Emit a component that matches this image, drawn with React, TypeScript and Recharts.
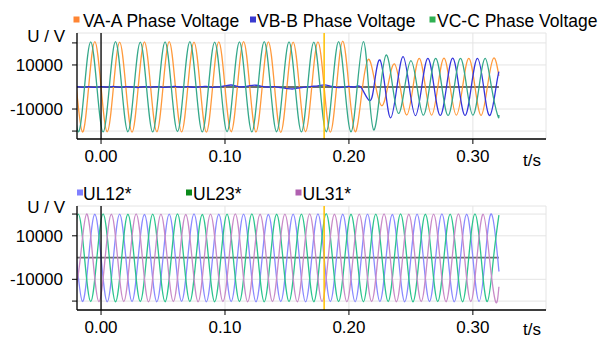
import React from 'react';
import { LineChart, Line, XAxis, YAxis, CartesianGrid, ReferenceLine } from 'recharts';

// sample times (ms) and voltages (V)
const vaMs = [-25, -20, -15, -10, -5, 0, 5, 10, 15, 20, 25, 30, 35, 40, 45, 50, 55, 60, 65, 70, 75, 80, 85, 90, 95, 100, 105, 110, 115, 120, 125, 130, 135, 140, 145, 150, 155, 160, 165, 170, 175, 180, 185, 190, 195, 200, 205, 210.1, 215.5, 221, 226.5, 231.6, 236.7, 241.7, 246.7, 251.7, 256.7, 261.7, 266.7, 271.7, 276.7, 281.7, 286.7, 291.7, 296.7, 301.7, 306.7, 311.7, 316.7, 321];
const vaVolts = [
  20500, 0, -20400, 0, 20600, 0, -20300, 0, 20400, 0, -20500, 0, 20500, 0, -20300, 0,
  20600, 0, -20400, 0, 20400, 0, -20500, 0, 20500, 0, -20300, 0, 20600, 0, -20400, 0,
  20500, 0, -20600, 0, 20400, 0, -20300, 0, 20500, 0, -20500, 0, 20800, 0, -20300,
  -3900, 12500, 2000, -8500, 1000, 10500, -1100, -12700, 0, 13000, 0, -12800, 0, 13100, 0,
  -12800, 0, 13000, 0, -12900, 0, 13100, 5000,
];

const vbMs = [-25, -20, -15, -10, -5, 0, 5, 10, 15, 20, 25, 30, 35, 40, 45, 50, 55, 60, 65, 70, 75, 80, 85, 90, 95, 100, 105, 110, 115, 120, 125, 130, 135, 140, 145, 150, 155, 160, 165, 170, 175, 180, 185, 190, 195, 200, 205, 210, 216.9, 220.9, 225, 229.3, 233.7, 238.7, 243.7, 248.7, 253.7, 258.7, 263.7, 268.7, 273.7, 278.7, 283.7, 288.7, 293.7, 298.7, 303.7, 308.7, 313.7, 318.7, 321];
const vbVolts = [
  0, 200, -150, 100, -200, 150, -100, 250, -200, 100, 0, -250, 150, -100, 200, -150,
  100, 300, -100, 200, -200, 100, 250, -150, 100, 500, 900, 300, 100, 600, 800, 300,
  0, 200, -300, -700, -900, -400, 0, 300, 500, 1000, 400, -200, -100, 300, 0, -300,
  -6200, 3000, 12300, -900, -14000, 0, 13800, 0, -13000, 0, 13000, 0, -12900, 0, 13100, 0,
  -12900, 0, 13000, 0, -12900, 0, 7000,
];

const vcMs = [-28.33, -23.33, -18.33, -13.33, -8.33, -3.33, 1.67, 6.67, 11.67, 16.67, 21.67, 26.67, 31.67, 36.67, 41.67, 46.67, 51.67, 56.67, 61.67, 66.67, 71.67, 76.67, 81.67, 86.67, 91.67, 96.67, 101.67, 106.67, 111.67, 116.67, 121.67, 126.67, 131.67, 136.67, 141.67, 146.67, 151.67, 156.67, 161.67, 166.67, 171.67, 176.67, 181.67, 186.67, 191.67, 196.67, 201.67, 206.67, 211.67, 215.8, 220, 225, 230, 235, 240, 245, 250, 255, 260, 265, 270, 275, 280, 285, 290, 295, 300, 305, 310, 315, 320, 321];
const vcVolts = [
  20400, 0, -20300, 0, 20500, 0, -20400, 0, 20600, 0, -20300, 0, 20400, 0, -20400, 0,
  20500, 0, -20200, 0, 20600, 0, -20400, 0, 20400, 0, -20300, 0, 20500, 0, -20400, 0,
  20600, 0, -20300, 0, 20500, 0, -20400, 0, 20400, 0, -20300, 0, 20600, 0, -20300, 0, 20600,
  500, -19500, -2500, 14500, 1250, -12000, 0, 12000, 0, -12800, 0, 13000, 0, -12900, 0, 13000,
  0, -12800, 0, 13000, 0, -12900, -12700,
];

const ul12Ms = [-25, -20, -15, -10, -5, 0, 5, 10, 15, 20, 25, 30, 35, 40, 45, 50, 55, 60, 65, 70, 75, 80, 85, 90, 95, 100, 105, 110, 115, 120, 125, 130, 135, 140, 145, 150, 155, 160, 165, 170, 175, 180, 185, 190, 195, 200, 205, 210, 215, 220, 225, 230, 235, 240, 245, 250, 255, 260, 265, 270, 275, 280, 285, 290, 295, 300, 305, 310, 315, 320, 321];
const ul12Volts = [
  20100, 0, -20200, 0, 19900, 0, -20300, 0, 20000, 0, -20200, 0, 19800, 0, -20300, 0,
  20000, 0, -20100, 0, 20100, 0, -20300, 0, 19900, 0, -20200, 0, 20000, 0, -20300, 0,
  19800, 0, -20200, 0, 20000, 0, -20300, 0, 20100, 0, -20200, 0, 19900, 0, -20300, 0,
  20000, 0, -20200, 0, 19800, 0, -20300, 0, 20000, 0, -20200, 0, 20100, 0, -20300, 0,
  19900, 0, -20200, 0, 20000, 0, -6200,
];

const ul23Ms = [-23.33, -18.33, -13.33, -8.33, -3.33, 1.67, 6.67, 11.67, 16.67, 21.67, 26.67, 31.67, 36.67, 41.67, 46.67, 51.67, 56.67, 61.67, 66.67, 71.67, 76.67, 81.67, 86.67, 91.67, 96.67, 101.67, 106.67, 111.67, 116.67, 121.67, 126.67, 131.67, 136.67, 141.67, 146.67, 151.67, 156.67, 161.67, 166.67, 171.67, 176.67, 181.67, 186.67, 191.67, 196.67, 201.67, 206.67, 211.67, 216.67, 221.67, 226.67, 231.67, 236.67, 241.67, 246.67, 251.67, 256.67, 261.67, 266.67, 271.67, 276.67, 281.67, 286.67, 291.67, 296.67, 301.67, 306.67, 311.67, 316.67, 321];
const ul23Volts = [
  0, 20000, 0, -20200, 0, 20100, 0, -20300, 0, 19900, 0, -20200, 0, 20000, 0, -20300,
  0, 20100, 0, -20200, 0, 19800, 0, -20300, 0, 20000, 0, -20200, 0, 20100, 0, -20300,
  0, 19900, 0, -20200, 0, 20000, 0, -20300, 0, 20200, 0, -20200, 0, 19900, 0, -20300,
  0, 20000, 0, -20200, 0, 20100, 0, -20300, 0, 19900, 0, -20200, 0, 20000, 0, -20300,
  0, 20100, 0, -20200, 0, 19500,
];

const ul31Ms = [-21.67, -16.67, -11.67, -6.67, -1.67, 3.33, 8.33, 13.33, 18.33, 23.33, 28.33, 33.33, 38.33, 43.33, 48.33, 53.33, 58.33, 63.33, 68.33, 73.33, 78.33, 83.33, 88.33, 93.33, 98.33, 103.33, 108.33, 113.33, 118.33, 123.33, 128.33, 133.33, 138.33, 143.33, 148.33, 153.33, 158.33, 163.33, 168.33, 173.33, 178.33, 183.33, 188.33, 193.33, 198.33, 203.33, 208.33, 213.33, 218.33, 223.33, 228.33, 233.33, 238.33, 243.33, 248.33, 253.33, 258.33, 263.33, 268.33, 273.33, 278.33, 283.33, 288.33, 293.33, 298.33, 303.33, 308.33, 313.33, 318.33, 321];
const ul31Volts = [
  -20200, 0, 20000, 0, -20300, 0, 19900, 0, -20200, 0, 20100, 0, -20300, 0, 20000, 0,
  -20200, 0, 19800, 0, -20300, 0, 20000, 0, -20200, 0, 20100, 0, -20300, 0, 19900, 0,
  -20200, 0, 20000, 0, -20300, 0, 20100, 0, -20200, 0, 19900, 0, -20300, 0, 20000, 0,
  -20200, 0, 20100, 0, -20300, 0, 19900, 0, -20200, 0, 20000, 0, -20300, 0, 20100, 0,
  -20200, 0, 19900, 0, -20300, -13400,
];

const topNames = ['VA-A Phase Voltage', 'VB-B Phase Voltage', 'VC-C Phase Voltage'];
const bottomNames = ['UL12*', 'UL23*', 'UL31*'];
const xTicks = [0, 0.1, 0.2, 0.3];
const yTicks = [-20000, -10000, 0, 10000, 20000];

const FONT = '"Liberation Sans", Arial, sans-serif';
const X_DOMAIN: [number, number] = [-0.0194, 0.359];
const DATA_END = 0.321;
const CURSOR_T = 0.18;

const toPoints = (ms: number[], volts: number[]) => ms.map((m, i) => ({ t: m / 1000, v: volts[i] }));

// zero baseline only runs over the recorded span, drawn under the traces
const baseline = [{ t: X_DOMAIN[0], v: 0 }, { t: DATA_END, v: 0 }];

const topSeries = [
  { name: topNames[0], color: '#ff9a3c', points: toPoints(vaMs, vaVolts) },
  { name: topNames[1], color: '#3434dc', points: toPoints(vbMs, vbVolts) },
  { name: topNames[2], color: '#35a88a', points: toPoints(vcMs, vcVolts) },
];

const bottomSeries = [
  { name: bottomNames[0], color: '#8a8aff', points: toPoints(ul12Ms, ul12Volts) },
  { name: bottomNames[1], color: '#2cc48e', points: toPoints(ul23Ms, ul23Volts) },
  { name: bottomNames[2], color: '#c88ac8', points: toPoints(ul31Ms, ul31Volts) },
];

type Series = { name: string; color: string; points: { t: number; v: number }[] };

function Panel(props: {
  top: number;
  height: number;
  marginTop: number;
  marginBottom: number;
  yDomain: [number, number];
  series: Series[];
}) {
  const { top, height, marginTop, marginBottom, yDomain, series } = props;
  return (
    <div style={{ position: 'absolute', left: 0, top }}>
      <LineChart width={600} height={height} margin={{ top: marginTop, right: 54, bottom: marginBottom, left: 0 }}>
        <CartesianGrid stroke="#e4e4e4" />
        <XAxis
          type="number"
          dataKey="t"
          domain={X_DOMAIN}
          ticks={xTicks}
          allowDataOverflow
          tickFormatter={(v: number) => v.toFixed(2)}
          height={25}
          tickSize={5}
          tickMargin={6}
          axisLine={{ stroke: '#000', strokeWidth: 1.3 }}
          tickLine={{ stroke: '#000' }}
          tick={{ fill: '#000', fontSize: 17, fontFamily: FONT }}
        />
        <YAxis
          type="number"
          domain={yDomain}
          ticks={yTicks}
          allowDataOverflow
          width={77}
          tickSize={5}
          tickMargin={9}
          tickFormatter={(v: number) => (Math.abs(v) >= 20000 ? '' : String(v))}
          axisLine={{ stroke: '#000', strokeWidth: 1.3 }}
          tickLine={{ stroke: '#000' }}
          tick={{ fill: '#000', fontSize: 17, fontFamily: FONT }}
        />
        <Line
          data={baseline}
          dataKey="v"
          name="zero"
          type="linear"
          stroke="#6e6e6e"
          strokeWidth={1.8}
          dot={false}
          activeDot={false}
          isAnimationActive={false}
        />
        {series.map((s) => (
          <Line
            key={s.name}
            name={s.name}
            data={s.points}
            dataKey="v"
            type="natural"
            stroke={s.color}
            strokeWidth={1.3}
            dot={false}
            activeDot={false}
            isAnimationActive={false}
          />
        ))}
        <ReferenceLine x={0} stroke="#000" strokeWidth={1.3} />
        <ReferenceLine x={CURSOR_T} stroke="#ffc000" strokeWidth={1.5} />
      </LineChart>
    </div>
  );
}

export default function App() {
  const legendItems = [
    { x: 73.5, textX: 83, y: 26.5, name: topNames[0], color: '#ff8533' },
    { x: 250, textX: 257, y: 26.5, name: topNames[1], color: '#3a3ad0' },
    { x: 429.5, textX: 437, y: 26.5, name: topNames[2], color: '#2fb052' },
    { x: 77, textX: 83, y: 199.5, name: bottomNames[0], color: '#8080ff' },
    { x: 186, textX: 193, y: 199.5, name: bottomNames[1], color: '#0a8a1a' },
    { x: 295.5, textX: 302.5, y: 199.5, name: bottomNames[2], color: '#b060b0' },
  ];
  return (
    <div
      style={{
        position: 'absolute',
        left: 0,
        top: 0,
        width: 600,
        height: 338,
        background: '#fff',
        fontFamily: FONT,
        overflow: 'hidden',
      }}
    >
      <Panel top={0} height={170} marginTop={33} marginBottom={6} yDomain={[-23600, 24500]} series={topSeries} />
      <Panel top={170} height={168} marginTop={36} marginBottom={3} yDomain={[-24100, 23700]} series={bottomSeries} />
      <svg width={600} height={338} style={{ position: 'absolute', left: 0, top: 0, pointerEvents: 'none' }}>
        {legendItems.map((l) => (
          <g key={l.name}>
            <rect x={l.x} y={l.y - 10} width={6} height={6} fill={l.color} />
            <text x={l.textX} y={l.y} fontSize={17.5} fontFamily={FONT} fill="#000">
              {l.name}
            </text>
          </g>
        ))}
        <text x={65} y={41.5} textAnchor="end" fontSize={17} fontFamily={FONT} fill="#000">
          U / V
        </text>
        <text x={65} y={212.5} textAnchor="end" fontSize={17} fontFamily={FONT} fill="#000">
          U / V
        </text>
        <text x={523} y={166} fontSize={17} fontFamily={FONT} fill="#000">
          t/s
        </text>
        <text x={523} y={335} fontSize={17} fontFamily={FONT} fill="#000">
          t/s
        </text>
      </svg>
    </div>
  );
}
